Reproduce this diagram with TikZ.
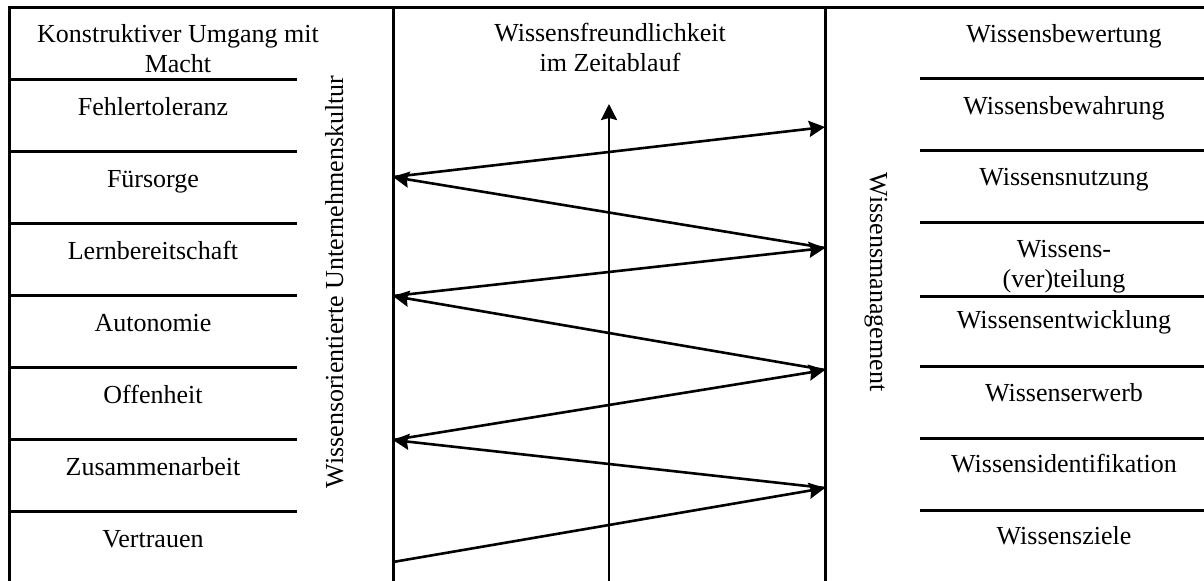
\documentclass[tikz,border=0pt]{standalone}
\usepackage{fontspec}
\setmainfont{Liberation Serif}
\usetikzlibrary{arrows.meta}
\begin{document}
\begin{tikzpicture}[x=0.5pt,y=-0.5pt,
  rule/.style={line width=1.5pt},
  flow/.style={line width=1.3pt,-{Stealth[length=8pt,width=8pt,inset=1pt]}},
  lbl/.style={font=\fontsize{13}{15}\selectfont, inner sep=0pt, anchor=base, align=center}]
\useasboundingbox (0,0) rectangle (1204,581);

% outer frame and column dividers
\draw[rule] (9,581) -- (9,8) -- (1204,8);
\draw[rule] (393,8) -- (393,581);
\draw[rule] (825,8) -- (825,581);

% row separators
\foreach \y in {80,152,...,512} \draw[rule] (9,\y) -- (297,\y);
\foreach \y in {79,151,223,297,367,439,511} \draw[rule] (920,\y) -- (1204,\y);

% culture factors (multi-line nodes sit on their last baseline)
\node[lbl] (k0) at (178,73) {Konstruktiver Umgang mit\\Macht};
\node[lbl] (k1) at (153,116) {Fehlertoleranz};
\node[lbl] (k2) at (153,188) {Fürsorge};
\node[lbl] (k3) at (153,260) {Lernbereitschaft};
\node[lbl] (k4) at (153,332) {Autonomie};
\node[lbl] (k5) at (153,404) {Offenheit};
\node[lbl] (k6) at (153,476) {Zusammenarbeit};
\node[lbl] (k7) at (153,548) {Vertrauen};

% knowledge management building blocks
\node[lbl] (m0) at (1064,43) {Wissensbewertung};
\node[lbl] (m1) at (1064,115) {Wissensbewahrung};
\node[lbl] (m2) at (1064,186) {Wissensnutzung};
\node[lbl] (m3) at (1064,288) {Wissens-\\(ver)teilung};
\node[lbl] (m4) at (1064,329) {Wissensentwicklung};
\node[lbl] (m5) at (1064,402) {Wissenserwerb};
\node[lbl] (m6) at (1064,473) {Wissensidentifikation};
\node[lbl] (m7) at (1064,545) {Wissensziele};

% column titles
\node[lbl] (title) at (610,72) {Wissensfreundlichkeit\\im Zeitablauf};
\node[lbl,rotate=90] (culture) at (343,282) {Wissensorientierte Unternehmenskultur};
\node[lbl,rotate=-90] (km) at (870,282) {Wissensmanagement};

% zigzag between the two columns
\coordinate (l0) at (393,562);
\coordinate (r1) at (825,488);
\coordinate (l1) at (393,440);
\coordinate (r2) at (825,370);
\coordinate (l2) at (393,296);
\coordinate (r3) at (825,248);
\coordinate (l3) at (393,177);
\coordinate (r4) at (825,127);
\draw[flow] (l0) -- (r1);
\draw[flow] (r1) -- (l1);
\draw[flow] (l1) -- (r2);
\draw[flow] (r2) -- (l2);
\draw[flow] (l2) -- (r3);
\draw[flow] (r3) -- (l3);
\draw[flow] (l3) -- (r4);

% time axis
\coordinate (t0) at (609,581);
\coordinate (t1) at (609,104);
\draw[flow] (t0) -- (t1);
\end{tikzpicture}
\end{document}
